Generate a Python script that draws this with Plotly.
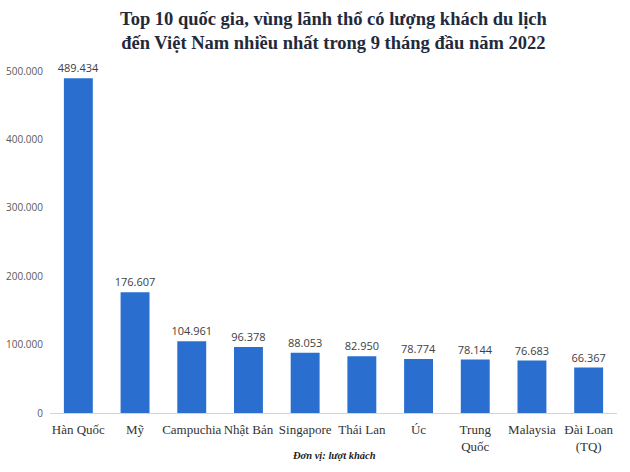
import plotly.graph_objects as go

categories = ["Hàn Quốc", "Mỹ", "Campuchia", "Nhật Bản", "Singapore", "Thái Lan",
              "Úc", "Trung<br>Quốc", "Malaysia", "Đài Loan<br>(TQ)"]
visitors = [489434, 176607, 104961, 96378, 88053, 82950, 78774, 78144, 76683, 66367]
y_ticks = [0, 100000, 200000, 300000, 400000, 500000]

fig = go.Figure(go.Bar(
    x=categories, y=visitors,
    marker=dict(color="#2a6fcf", line=dict(width=0)),
    texttemplate="%{y:,.0f}", textposition="outside",
    textfont=dict(family="Open Sans", size=11, color="#404040"),
    cliponaxis=False, constraintext="none",
))

fig.update_layout(
    width=630, height=472,
    margin=dict(l=50, r=13, t=71, b=59, autoexpand=False),
    paper_bgcolor="white", plot_bgcolor="white",
    separators=",.",
    bargap=0.49,
    showlegend=False,
    annotations=[
        dict(
            text="<b>Top 10 quốc gia, vùng lãnh thổ có lượng khách du lịch<br>đến Việt Nam nhiều nhất trong 9 tháng đầu năm 2022</b>",
            x=0.5, xref="paper", y=1 + 64 / 342, yref="paper",
            xanchor="center", yanchor="top", showarrow=False,
            font=dict(family="Liberation Serif", size=18.5, color="#1f2a3c"),
        ),
        dict(
            text="<b><i>Đơn vị: lượt khách</i></b>", x=0.5, xref="paper", y=-0.125, yref="paper",
            xanchor="center", yanchor="middle", showarrow=False,
            font=dict(family="Liberation Serif", size=10.5, color="#222"),
        ),
    ],
)
fig.update_xaxes(
    showline=True, linecolor="#c8d6ea", linewidth=1, showgrid=False,
    tickfont=dict(family="Liberation Serif", size=13, color="#333"),
    ticks="", ticklabelstandoff=4, tickangle=0, automargin=False,
)
fig.update_yaxes(
    range=[0, 500000], tickvals=y_ticks, tickformat=",.0f",
    showgrid=False, zeroline=False, showline=False,
    tickfont=dict(family="Open Sans", size=10, color="#595959"),
    ticklabelstandoff=6, automargin=False,
)

fig.write_html("out.html")
